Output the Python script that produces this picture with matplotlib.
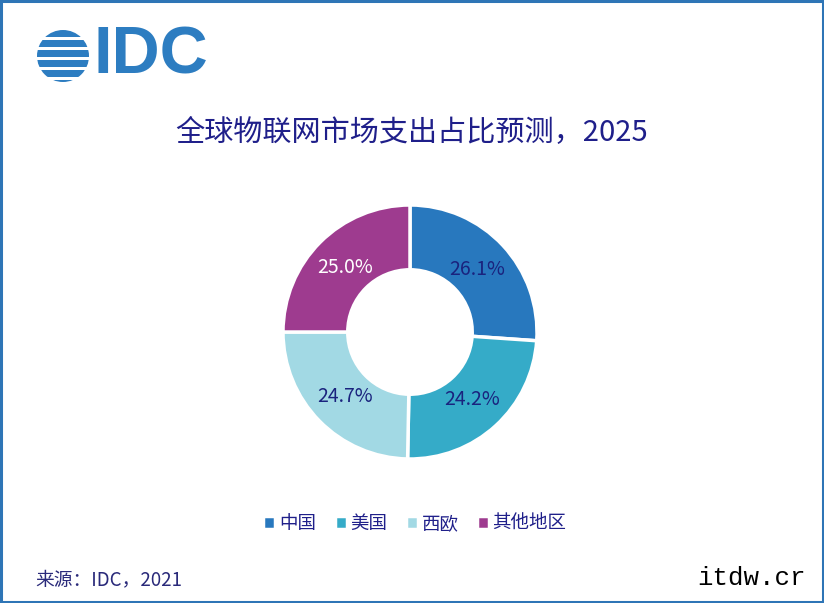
import matplotlib
matplotlib.use("Agg")
import matplotlib.pyplot as plt
from matplotlib.patches import Circle, Rectangle

plt.rcParams['font.family'] = ['Noto Sans CJK SC', 'DejaVu Sans']

# data
regions = ["中国", "美国", "西欧", "其他地区"]
shares = [26.1, 24.2, 24.7, 25.0]
colors = ["#2878BE", "#35ABC8", "#A2D9E4", "#9E3B8F"]
label_colors = ["#1A237E", "#1A237E", "#1A237E", "white"]

title = "全球物联网市场支出占比预测，2025"
source = "来源：IDC，2021"

fig = plt.figure(figsize=(8.24, 6.03), dpi=100)
W, H = 824, 603

# overlay axes in pixel coordinates for logo / frame
bg = fig.add_axes([0, 0, 1, 1])
bg.set_xlim(0, W)
bg.set_ylim(H, 0)
bg.axis("off")

# frame
bg.add_patch(Rectangle((1, 1), W - 2, H - 2, fill=False, edgecolor="#2E75B6", lw=2.2))

# logo globe
logo_blue = "#2D7DC1"
globe = Circle((63, 56), 26, facecolor="none", edgecolor="none")
bg.add_patch(globe)
for yy in [30, 40, 50, 60, 70, 80]:
    bar = Rectangle((30, yy), 70, 7, facecolor=logo_blue, edgecolor="none")
    bg.add_patch(bar)
    bar.set_clip_path(globe)
bg.text(94, 56, "IDC", fontsize=48, fontweight="bold", color=logo_blue,
        family="Liberation Sans", ha="left", va="center")

# title
bg.text(412, 133, title, fontsize=21, color="#1F1F8A", ha="center", va="center")

# donut
ax = fig.add_axes([(410 - 127) / W, 1 - (332 + 127) / H, 254 / W, 254 / H])
wedges, texts, autotexts = ax.pie(
    shares, colors=colors, startangle=90, counterclock=False,
    autopct="%.1f%%", pctdistance=0.72,
    wedgeprops=dict(width=0.51, edgecolor="white", linewidth=2.5),
    textprops=dict(fontsize=14))
for t, c in zip(autotexts, label_colors):
    t.set_color(c)
ax.set_xlim(-1, 1)
ax.set_ylim(-1, 1)
ax.set_aspect("equal")
ax.axis("off")

# legend
fig.legend(wedges, regions, loc="center", bbox_to_anchor=(415 / W, 1 - 524 / H),
           ncol=4, frameon=False, fontsize=13.3, handlelength=0.65, handleheight=0.65,
           handletextpad=0.2, columnspacing=1.0, labelcolor="#1F1F8A")

# source & watermark
bg.text(35, 580, source, fontsize=13.5, color="#2A2A7A", ha="left", va="center")
bg.text(806, 578, "itdw.cr", fontsize=18.5, color="black", family="Liberation Mono",
        ha="right", va="center")

fig.savefig("out.png", dpi=100)
